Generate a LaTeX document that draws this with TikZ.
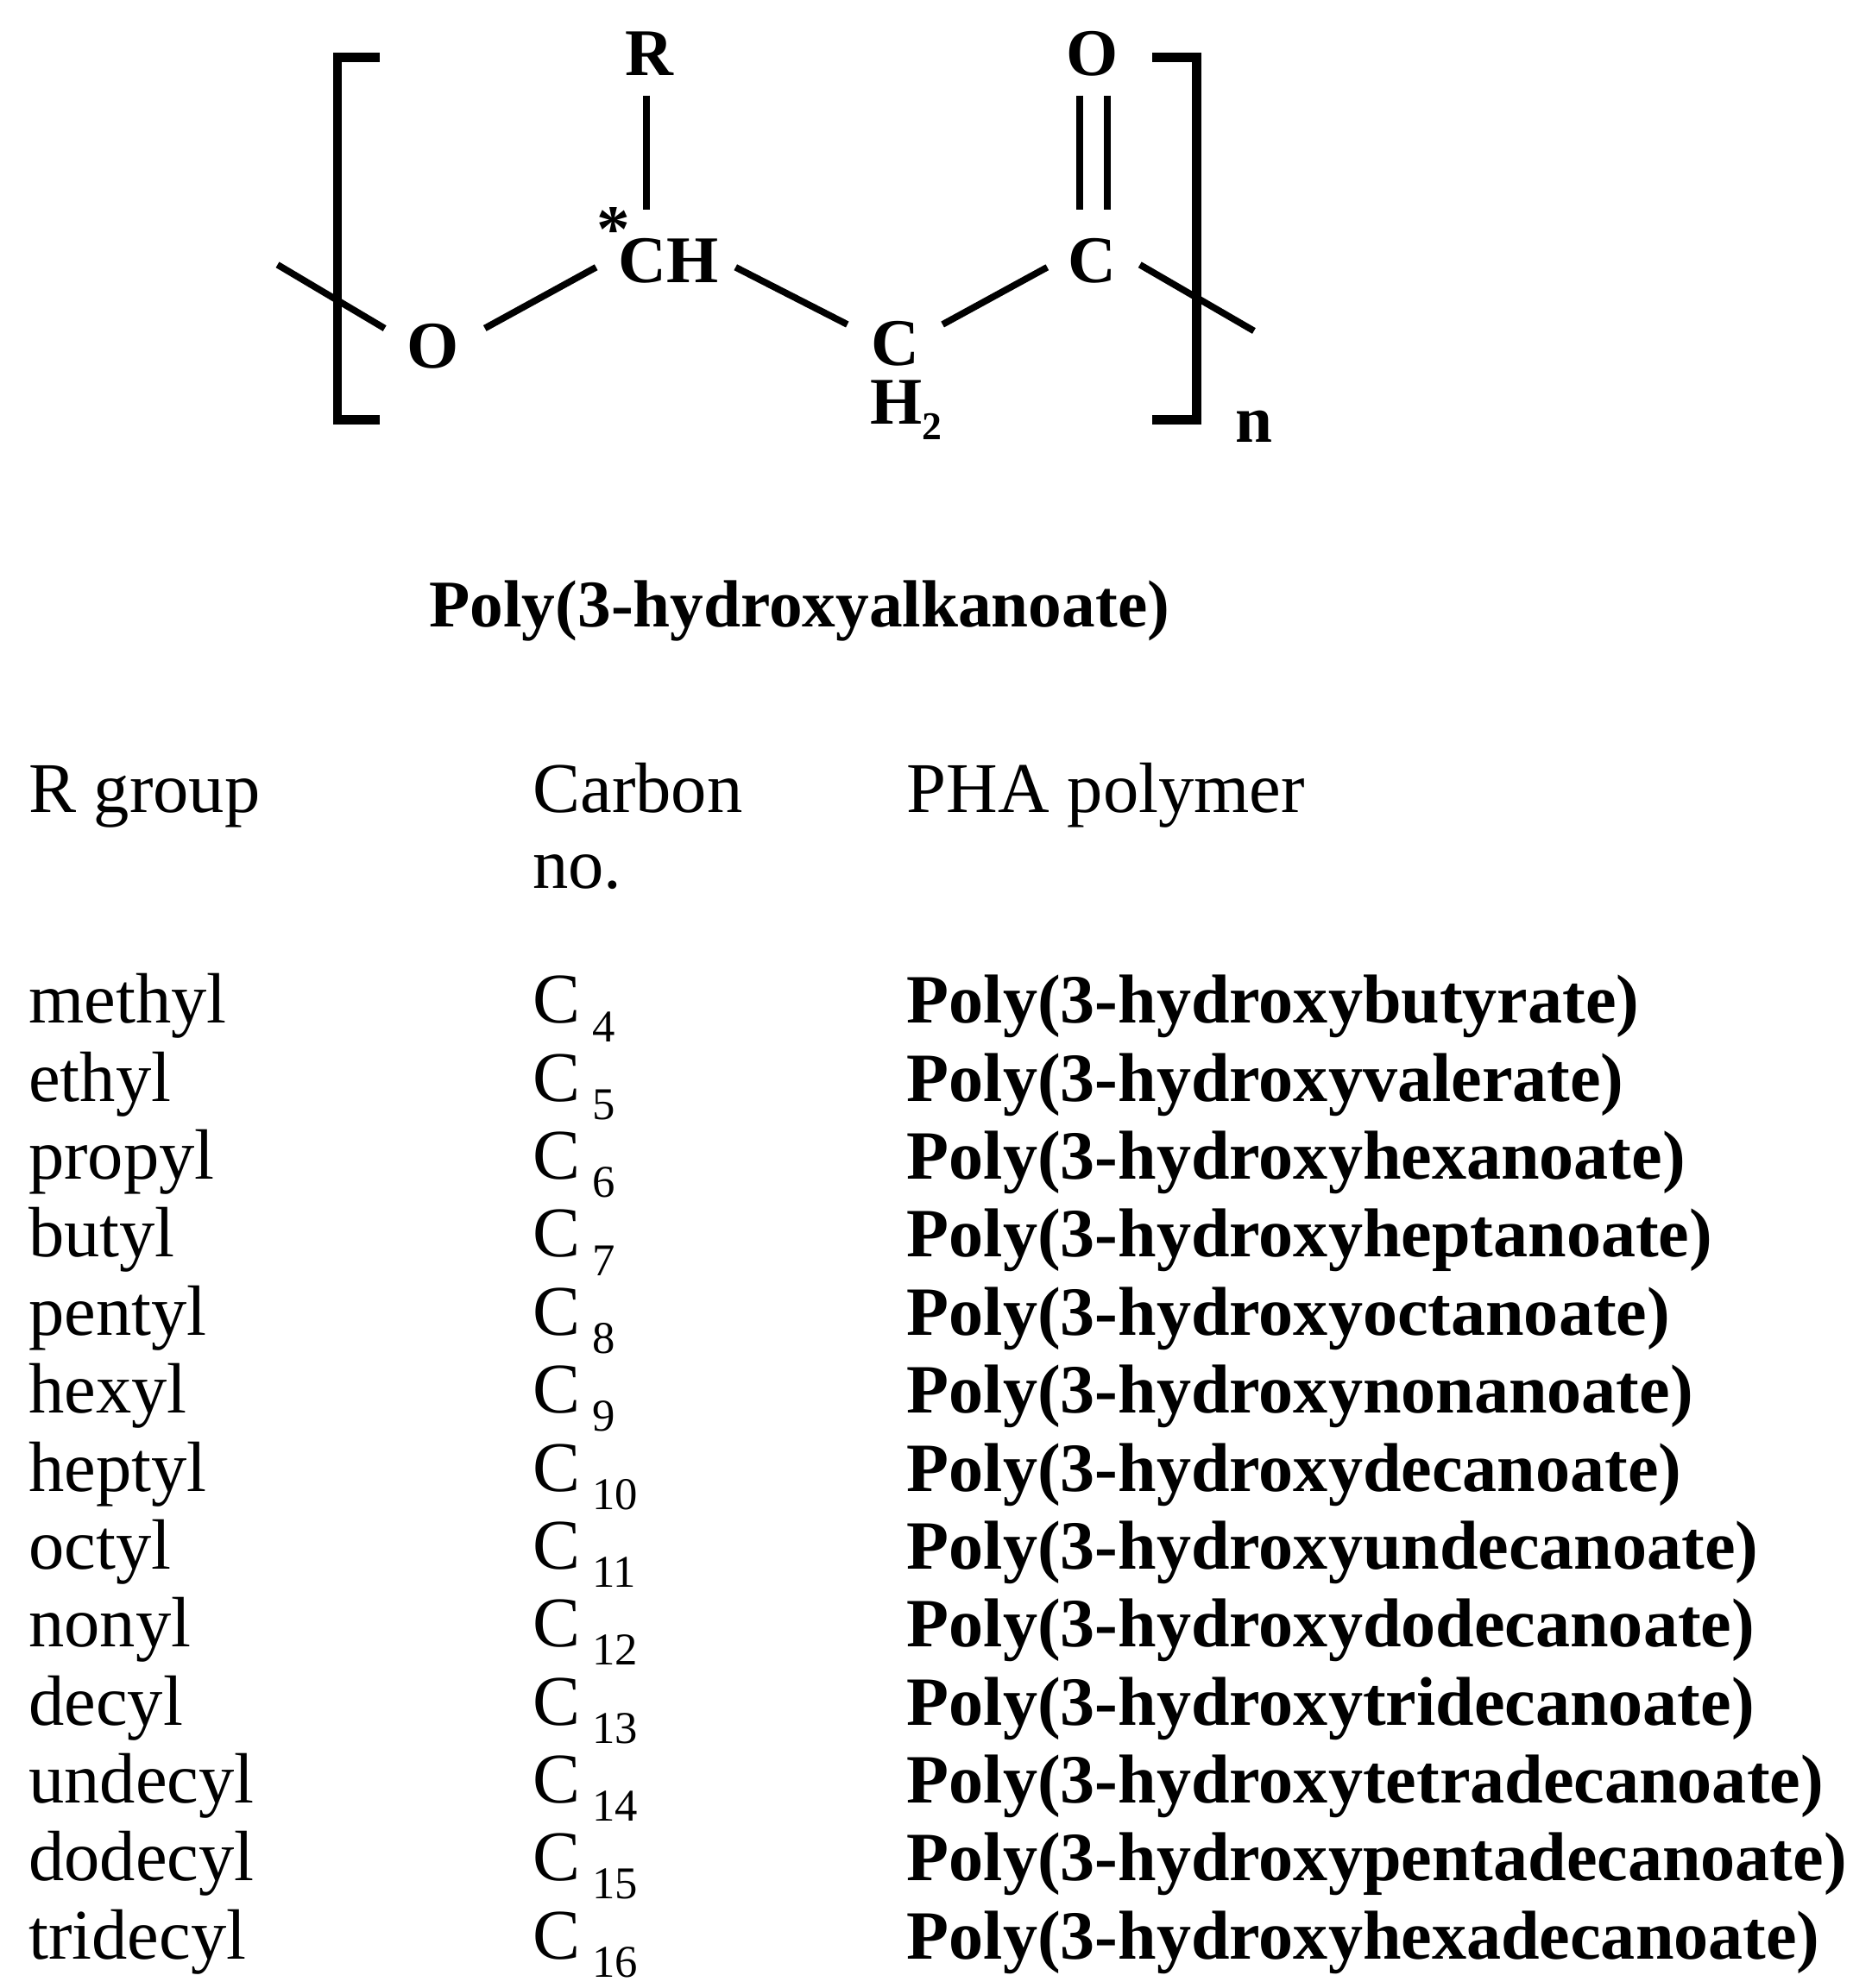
\documentclass[tikz,border=0pt]{standalone}
\usepackage{fontspec}
\setmainfont{Liberation Serif}
\begin{document}
\begin{tikzpicture}[x=0.014748cm,y=-0.014748cm,
  atom/.style={font=\fontsize{22}{22}\selectfont\bfseries,inner sep=0pt},
  tb/.style={font=\fontsize{23.5}{23.5}\selectfont,anchor=base west,inner sep=0pt},
  tbb/.style={tb,font=\fontsize{22.8}{22.8}\selectfont\bfseries},
  bond/.style={line width=2.2pt}]
\useasboundingbox (0,0) rectangle (1470,1562);
% brackets
\draw[line width=3pt] (298,45) -- (265,45) -- (265,330) -- (298,330);
\draw[line width=3pt] (905,45) -- (940,45) -- (940,330) -- (905,330);
\node[atom] (n) at (985,335) {n};
\node[atom] (R) at (510,42) {R};
\node[atom] (CH) at (525,205) {CH};
\node[atom] (star) at (482,180) {*};
\node[atom] (O1) at (340,272) {O};
\node[atom] (C2) at (703,270) {C};
\node[atom] (H2) at (712,322) {H\raisebox{-5pt}{\fontsize{13}{13}\selectfont 2}};
\node[atom] (C1) at (858,205) {C};
\node[atom] (O2) at (858,42) {O};
\coordinate (e1) at (218,208);
\coordinate (e2) at (985,260);
\draw[bond] (e1) -- ([shift={(-17,-14)}]O1.west);
\draw[bond] ([shift={(20,4)}]O1.north east) -- ([shift={(-17,5)}]CH.west);
\draw[bond] ([shift={(13,5)}]CH.east) -- ([shift={(-18,3)}]C2.north west);
\draw[bond] ([shift={(18,3)}]C2.north east) -- ([shift={(-16,5)}]C1.west);
\draw[bond] ([shift={(18,3)}]C1.east) -- (e2);
\draw[bond] (508,75) -- (508,165);
\draw[bond] (848,75) -- (848,165);
\draw[bond] (870,75) -- (870,165);
\node[atom] (title) at (628,480) {Poly(3-hydroxyalkanoate)};
% table
\node[tb] (h1) at (22,638) {R group};
\node[tb] (h2) at (418,638) {Carbon};
\node[tb] (h2b) at (418,698) {no.};
\node[tb] (h3) at (712,638) {PHA polymer};
\foreach \i/\r/\c/\p in {0/methyl/4/butyrate,1/ethyl/5/valerate,2/propyl/6/hexanoate,3/butyl/7/heptanoate,4/pentyl/8/octanoate,5/hexyl/9/nonanoate,6/heptyl/10/decanoate,7/octyl/11/undecanoate,8/nonyl/12/dodecanoate,9/decyl/13/tridecanoate,10/undecyl/14/tetradecanoate,11/dodecyl/15/pentadecanoate,12/tridecyl/16/hexadecanoate}{
  \node[tb] (r\i) at (22,{804+61.25*\i}) {\r};
  \node[tb] (c\i) at (418,{804+61.25*\i}) {C\,\raisebox{-6pt}{\fontsize{15}{15}\selectfont\c}};
  \node[tbb] (p\i) at (712,{804+61.25*\i}) {Poly(3-hydroxy\p)};
}
\end{tikzpicture}
\end{document}
